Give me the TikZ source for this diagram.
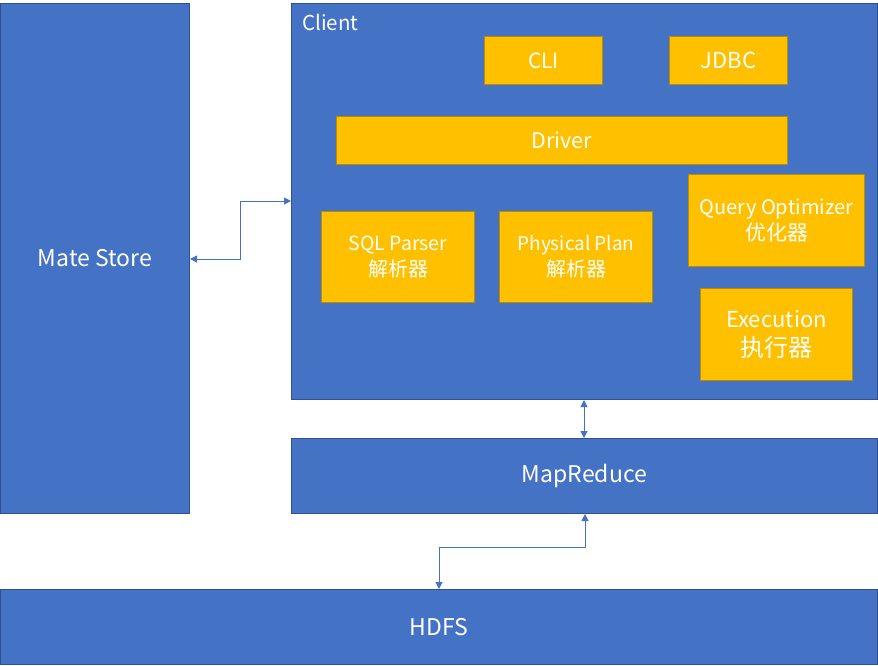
\documentclass[tikz,border=0pt]{standalone}
\usepackage{fontspec}
\setmainfont{Noto Sans CJK SC}
\usetikzlibrary{arrows.meta,calc}
\definecolor{bfill}{HTML}{4472C4}
\definecolor{bline}{HTML}{2F528F}
\definecolor{yfill}{HTML}{FFC000}
\definecolor{yline}{HTML}{BC8C00}
\definecolor{conn}{HTML}{4472C4}
\newcommand{\fsz}[1]{\fontsize{#1}{#1}\selectfont}
\tikzset{
  bluebox/.style={draw=bline,fill=bfill,line width=1pt,inner sep=0pt,anchor=north west,text=white,font=\fsz{23}},
  yellowbox/.style={draw=yline,fill=yfill,line width=1pt,inner sep=0pt,anchor=north west,text=white,align=center,font=\fsz{21.5}},
  conline/.style={draw=conn,line width=1pt,{Triangle[length=7pt,width=7pt]}-{Triangle[length=7pt,width=7pt]}},
}
\begin{document}
\begin{tikzpicture}[x=1pt,y=-1pt]
\useasboundingbox (0,0) rectangle (878,665);
\node[bluebox,minimum width=189pt,minimum height=510pt] (ms) at (0,3) {Mate Store};
\node[bluebox,minimum width=586pt,minimum height=396pt] (client) at (291,3) {};
\node[anchor=west,text=white,inner sep=0pt,font=\fsz{20.5}] (clientlbl) at (302,22) {Client};
\node[yellowbox,minimum width=118pt,minimum height=48pt,font=\fsz{21}] (cli) at (484,36) {CLI};
\node[yellowbox,minimum width=118pt,minimum height=48pt,font=\fsz{22}] (jdbc) at (669,36) {JDBC};
\node[yellowbox,minimum width=451pt,minimum height=48pt] (driver) at (336,116) {Driver};
\node[yellowbox,minimum width=153pt,minimum height=91pt] (sql) at (321,211) {\fsz{19.5}SQL Parser\\[5pt]\fsz{20}解析器};
\node[yellowbox,minimum width=153pt,minimum height=91pt] (phys) at (499,211) {\fsz{19}Physical Plan\\[5pt]\fsz{20}解析器};
\node[yellowbox,minimum width=176pt,minimum height=92pt] (qo) at (688,174) {\fsz{20}Query Optimizer\\[3pt]\fsz{21}优化器};
\node[yellowbox,minimum width=152pt,minimum height=92pt] (exec) at (700,288) {\fsz{22}Execution\\[7pt]\fsz{24}执行器};
\node[bluebox,minimum width=586pt,minimum height=75pt] (mr) at (291,438) {MapReduce};
\node[bluebox,minimum width=877pt,minimum height=75pt] (hdfs) at (0,589) {HDFS};
\coordinate (c1) at (ms.east |- 0,259);
\coordinate (c2) at (client.west |- 0,201);
\draw[conline] (c1) -- (240,259) -- (240,201) -- (c2);
\coordinate (c3) at (584,0 |- client.south);
\coordinate (c4) at (584,0 |- mr.north);
\draw[conline] (c3) -- (c4);
\coordinate (c5) at (585,0 |- mr.south);
\coordinate (c6) at (439,0 |- hdfs.north);
\draw[conline] (c5) -- (585,547) -- (439,547) -- (c6);
\end{tikzpicture}
\end{document}
